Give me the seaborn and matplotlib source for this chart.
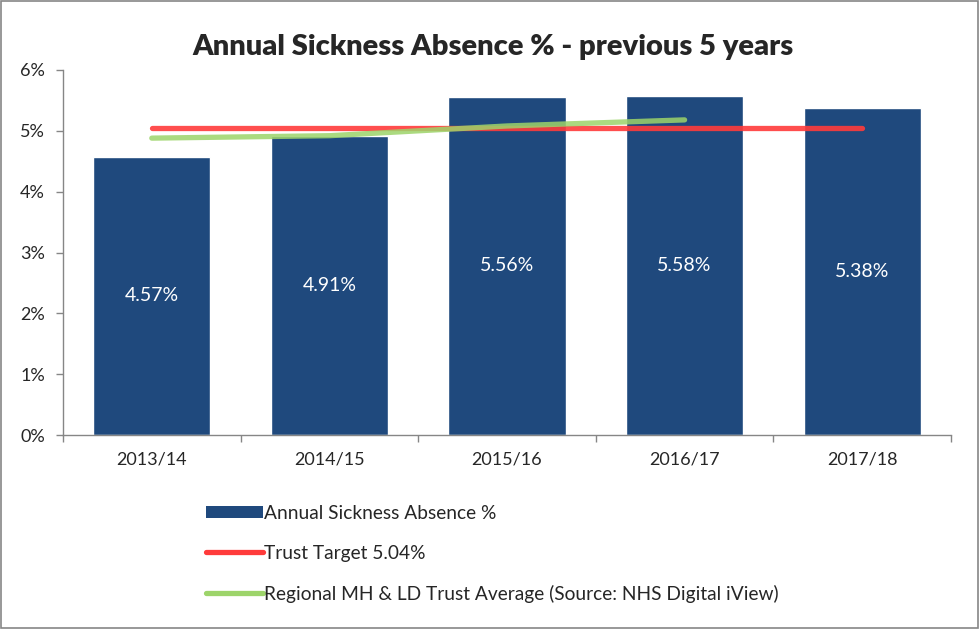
import numpy as np
import pandas as pd
import seaborn as sns
import matplotlib.pyplot as plt
from matplotlib.patches import Rectangle, Patch
from matplotlib.lines import Line2D

# data
years = ["2013/14", "2014/15", "2015/16", "2016/17", "2017/18"]
absence = [4.57, 4.91, 5.56, 5.58, 5.38]
target = [5.04, 5.04, 5.04, 5.04, 5.04]
regional = [4.88, 4.92, 5.08, 5.18]

bar_col = "#1F497D"
red = "#FF3B3B"
green = "#9DD46A"
grey = "#868686"

sns.set_style("white")
plt.rcParams["font.family"] = ["Lato", "DejaVu Sans"]

fig = plt.figure(figsize=(9.8, 6.29), dpi=100)
ax = fig.add_axes([63 / 980, 1 - 435 / 629, (951 - 63) / 980, (435 - 70) / 629])

df = pd.DataFrame({"year": years, "absence": absence})
sns.barplot(data=df, x="year", y="absence", color=bar_col, saturation=1,
            width=0.66, ax=ax)
ax.bar_label(ax.containers[0], labels=[f"{v:.2f}%" for v in absence],
             label_type="center", color="white", fontsize=14)

pos = np.arange(len(years))
sns.lineplot(x=pos, y=target, color=red, linewidth=3.8, alpha=0.9, ax=ax)
sns.lineplot(x=pos[:len(regional)], y=regional, color=green, linewidth=3.8,
             alpha=0.85, ax=ax)

ax.set_xlim(-0.5, len(years) - 0.5)
ax.set_ylim(0, 6)
ax.set_yticks(range(0, 7))
ax.set_yticklabels([f"{t}%" for t in range(0, 7)], fontsize=13)
ax.set_xticks(pos)
ax.set_xticklabels(years, fontsize=13)
ax.set_xticks(np.arange(-0.5, len(years)), minor=True)
ax.tick_params(axis="x", which="major", length=0, pad=12)
ax.tick_params(axis="x", which="minor", length=5, color=grey, width=1,
               direction="out", bottom=True)
ax.tick_params(axis="y", length=5, color=grey, width=1, direction="out",
               left=True, pad=8)
ax.set_xlabel("")
ax.set_ylabel("")
for s in ["top", "right"]:
    ax.spines[s].set_visible(False)
for s in ["left", "bottom"]:
    ax.spines[s].set_color(grey)
    ax.spines[s].set_linewidth(1)

fig.text(493 / 980, 1 - 47 / 629, "Annual Sickness Absence % - previous 5 years",
         ha="center", va="center", fontsize=21, fontweight="heavy")

handles = [
    Patch(facecolor=bar_col, edgecolor="none"),
    Line2D([], [], color=red, linewidth=3.8, solid_capstyle="round"),
    Line2D([], [], color=green, linewidth=3.8, solid_capstyle="round"),
]
labels = ["Annual Sickness Absence %", "Trust Target 5.04%",
          "Regional MH & LD Trust Average (Source: NHS Digital iView)"]
fig.legend(handles, labels, loc="upper left",
           bbox_to_anchor=(198 / 980, 1 - 497 / 629), frameon=False,
           fontsize=13.8, handlelength=3.0, handleheight=0.6,
           handletextpad=0.05, labelspacing=1.2, borderaxespad=0)

fig.add_artist(Rectangle((0.001, 0.001), 0.997, 0.997, transform=fig.transFigure,
                         fill=False, edgecolor=grey, linewidth=1.2))

fig.savefig("out.png", dpi=100)
